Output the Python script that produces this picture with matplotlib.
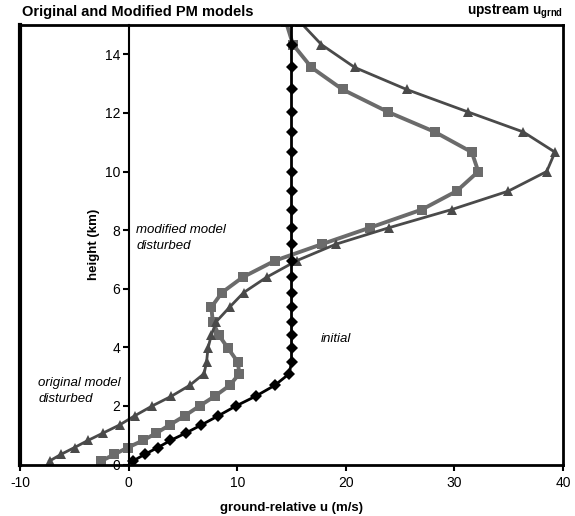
import matplotlib
matplotlib.use("Agg")
import matplotlib.pyplot as plt

plt.rcParams['font.family'] = ['Liberation Sans', 'DejaVu Sans']
plt.rcParams['mathtext.fontset'] = 'custom'
plt.rcParams['mathtext.rm'] = 'Liberation Sans'
plt.rcParams['mathtext.bf'] = 'Liberation Sans:bold'

# Data
height_km = [0.12, 0.35, 0.58, 0.82, 1.07, 1.35, 1.66, 2.0, 2.33, 2.7, 3.1,
             3.5, 3.97, 4.42, 4.88, 5.37, 5.87, 6.39, 6.96, 7.52, 8.08, 8.7,
             9.33, 10.0, 10.66, 11.35, 12.03, 12.8, 13.55, 14.33, 15.1]
u_initial = [0.4, 1.5, 2.7, 3.85, 5.25, 6.7, 8.25, 9.9, 11.7, 13.45, 14.8,
             15, 15, 15, 15, 15, 15, 15, 15, 15, 15, 15,
             15, 15, 15, 15, 15, 15, 15, 15, 15]
u_modified = [-2.5, -1.3, -0.06, 1.32, 2.55, 3.78, 5.16, 6.54, 7.93, 9.31, 10.2,
              10.05, 9.15, 8.3, 7.75, 7.62, 8.6, 10.5, 13.5, 17.8, 22.2, 27.0,
              30.2, 32.2, 31.6, 28.2, 23.9, 19.7, 16.84, 15.14, 14.5]
u_original = [-7.28, -6.2, -4.98, -3.75, -2.37, -0.83, 0.55, 2.18, 3.94, 5.62, 6.95,
              7.18, 7.31, 7.62, 8.08, 9.3, 10.6, 12.7, 15.5, 19.1, 23.96, 29.74,
              34.96, 38.5, 39.26, 36.34, 31.27, 25.6, 20.83, 17.76, 15.8]

x_ticks = [-10, 0, 10, 20, 30, 40]
y_ticks = [0, 2, 4, 6, 8, 10, 12, 14]

fig = plt.figure(figsize=(5.75, 5.16), dpi=100)
ax = fig.add_axes([20/575, 1-464.5/516, (563-20)/575, (464.5-25)/516])

ax.plot(u_initial, height_km, color='#000000', lw=2.0, marker='D',
        markersize=5.8, markeredgewidth=0, zorder=3)
ax.plot(u_modified, height_km, color='#6b6b6b', lw=2.8, marker='s',
        markersize=7, markeredgewidth=0, zorder=2)
ax.plot(u_original, height_km, color='#4a4a4a', lw=2.0, marker='^',
        markersize=7, markeredgewidth=0, zorder=2)

ax.set_xlim(-10, 40)
ax.set_ylim(0, 15)

for s in ['top', 'right', 'bottom']:
    ax.spines[s].set_linewidth(2.0)
ax.spines['left'].set_position(('data', 0))
ax.spines['left'].set_linewidth(1.5)
ax.axvline(-10, color='black', lw=3.0, clip_on=False, zorder=5)

ax.set_xticks(x_ticks)
ax.set_xticklabels([str(v) for v in x_ticks])
ax.set_yticks(y_ticks)
ax.set_yticklabels([str(v) for v in y_ticks])
ax.tick_params(axis='x', direction='out', length=4, width=1.5, labelsize=10, pad=4)
ax.tick_params(axis='y', direction='out', length=4, width=1.5, labelsize=10, pad=2)

ax.set_xlabel('ground-relative u (m/s)', fontsize=9.5, fontweight='bold', labelpad=9)
ax.text(-3.2, 7.5, 'height (km)', rotation=90, fontsize=9.5, fontweight='bold',
        ha='center', va='center')

ax.text(0.7, 8.0, 'modified model', fontsize=9.5, style='italic', va='center')
ax.text(0.7, 7.45, 'disturbed', fontsize=9.5, style='italic', va='center')
ax.text(17.7, 4.3, 'initial', fontsize=9.5, style='italic', va='center')
ax.text(-8.3, 2.78, 'original model', fontsize=9.5, style='italic', va='center')
ax.text(-8.3, 2.25, 'disturbed', fontsize=9.5, style='italic', va='center')

fig.text(22/575, 1-12/516, 'Original and Modified PM models', fontsize=10.5,
         fontweight='bold', ha='left', va='center')
fig.text(563/575, 1-12/516, r'upstream u$_{\mathbf{grnd}}$', fontsize=9.8,
         fontweight='bold', ha='right', va='center')

fig.savefig('out.png', dpi=100)
